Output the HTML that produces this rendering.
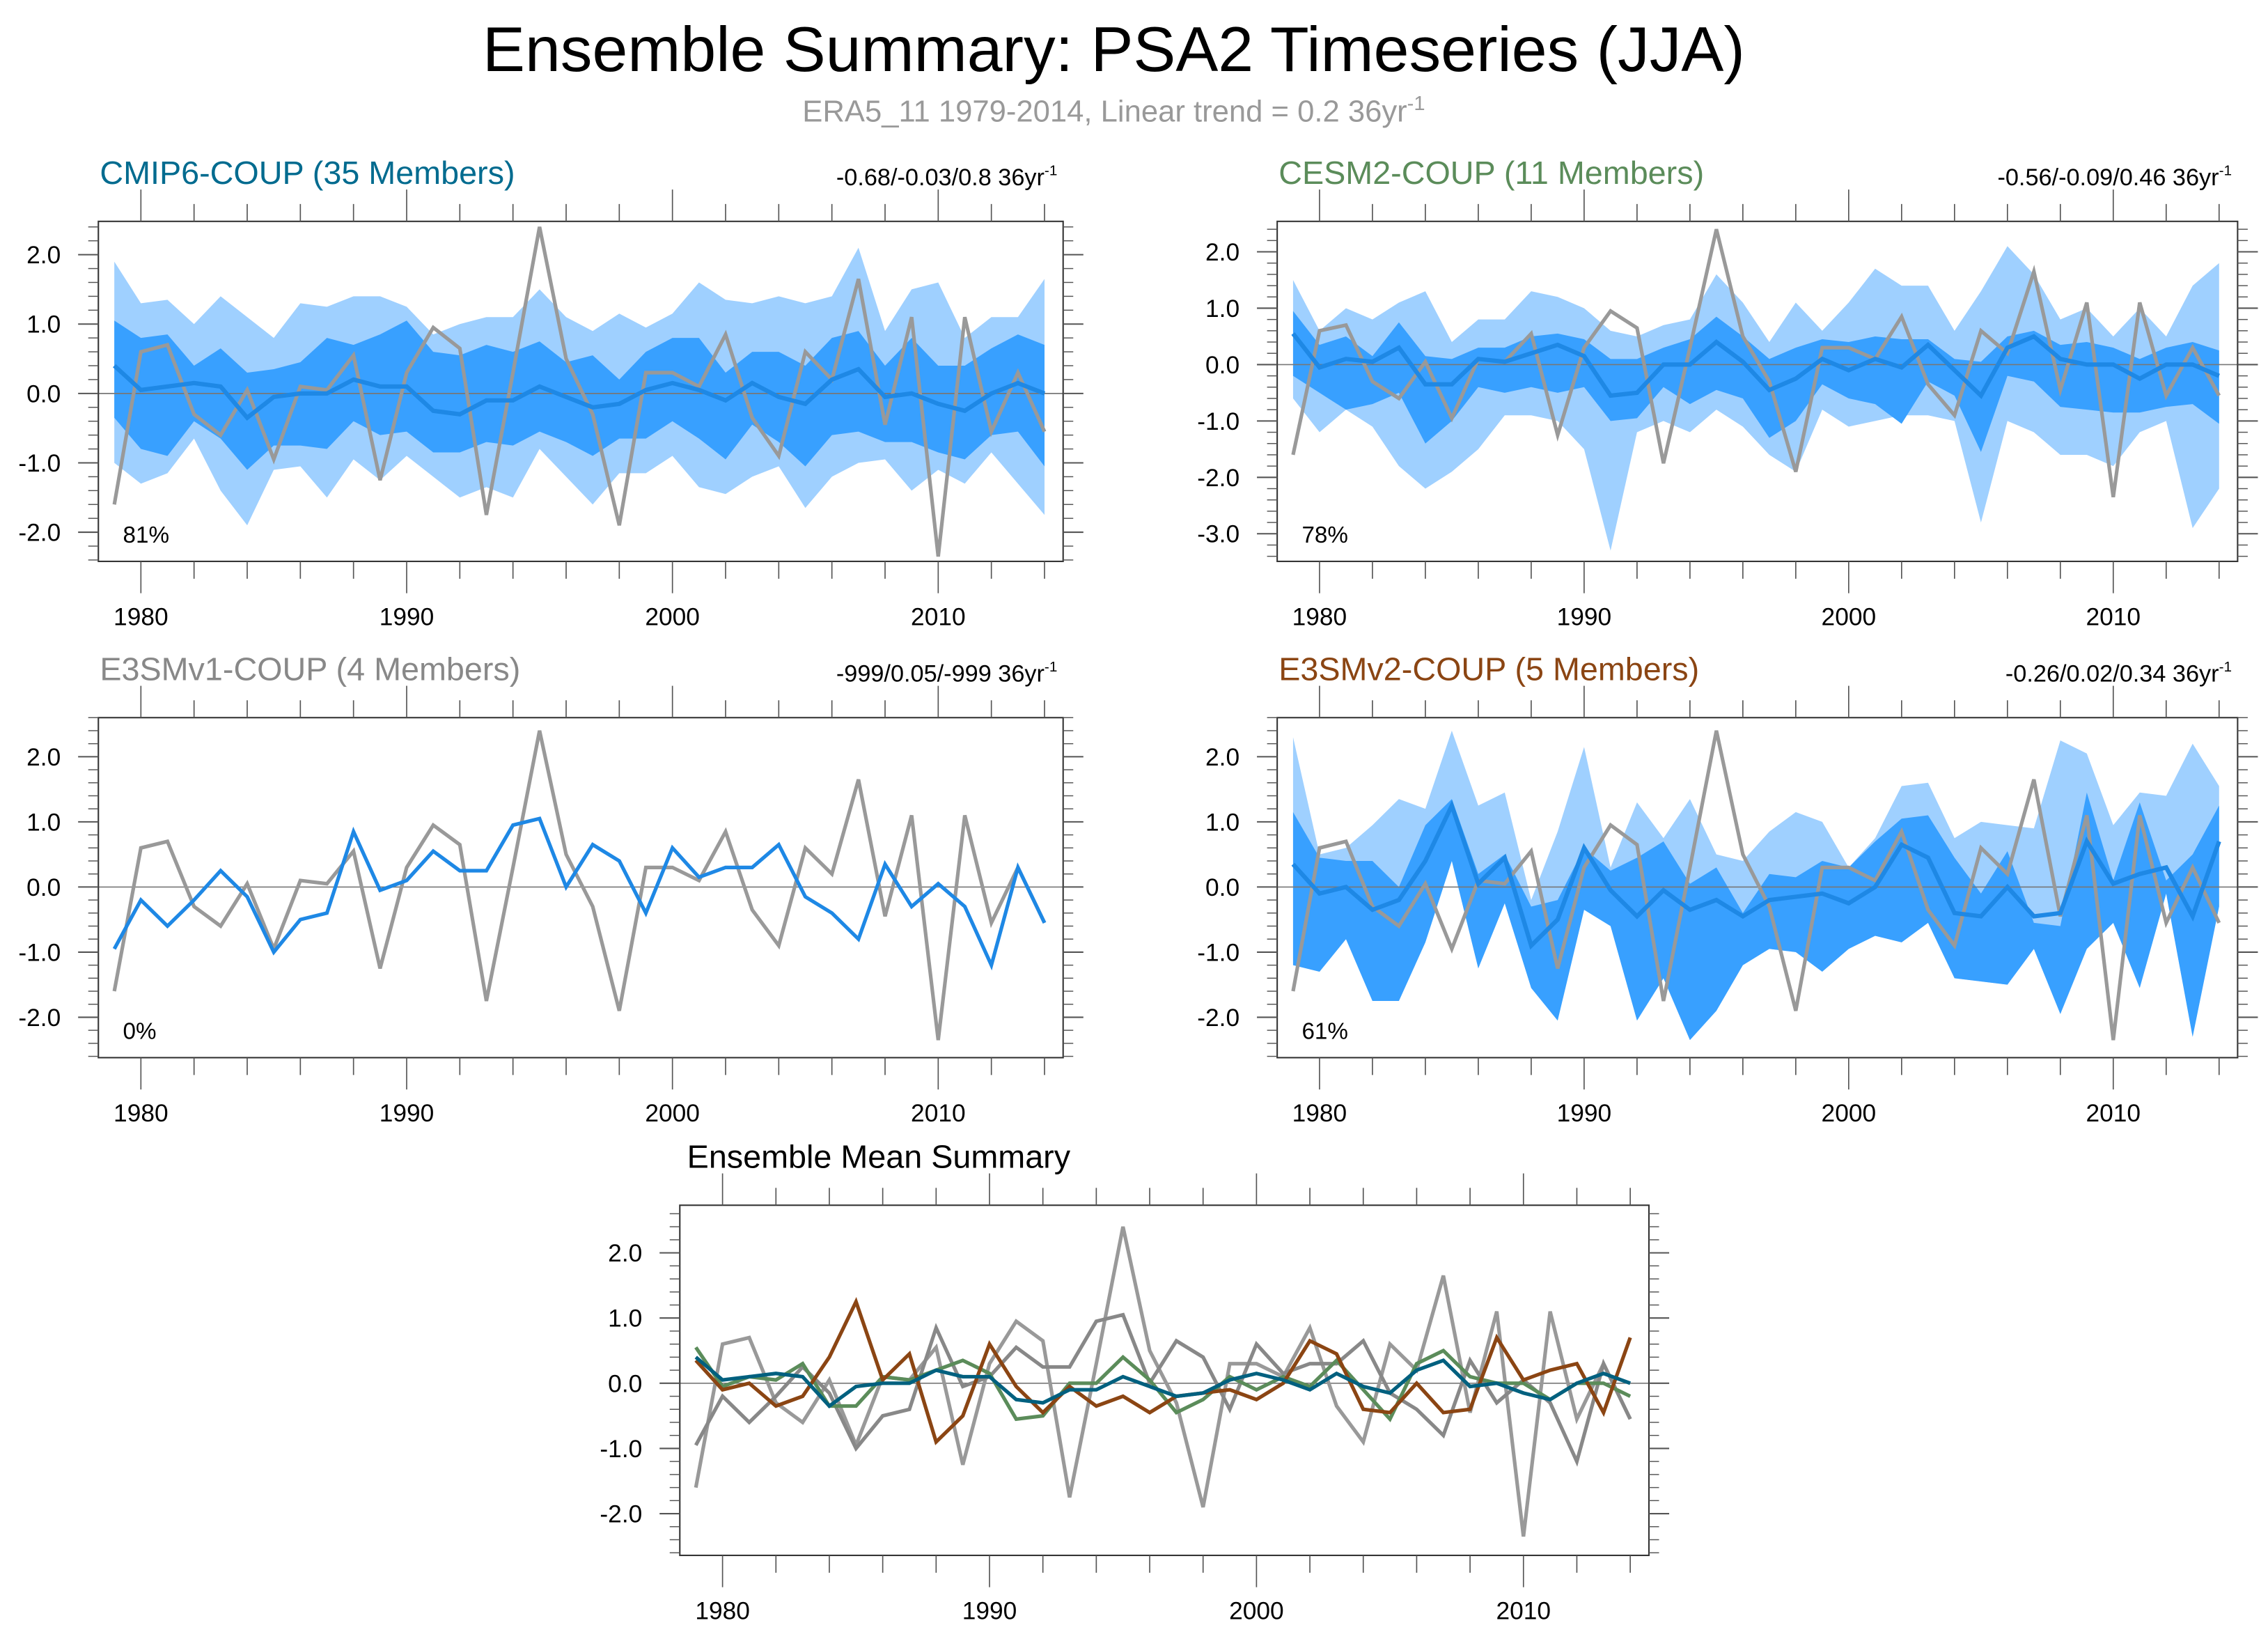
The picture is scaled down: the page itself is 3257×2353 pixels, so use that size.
<!DOCTYPE html>
<html><head><meta charset="utf-8"><style>
html,body{margin:0;padding:0;background:#fff}
svg{display:block;font-family:"Liberation Sans",sans-serif}
</style></head><body>
<svg id="chart" width="3257" height="2353" viewBox="0 0 1568 1132.8" xmlns="http://www.w3.org/2000/svg">
<text x="770" y="49" font-size="44" text-anchor="middle">Ensemble Summary: PSA2 Timeseries (JJA)</text>
<text x="770" y="84" font-size="21" text-anchor="middle" fill="#999">ERA5_11 1979-2014, Linear trend = 0.2 36yr<tspan dy="-8" font-size="14">-1</tspan></text>
</svg>
<script>
const years=[];for(let y=1979;y<=2014;y++)years.push(y);
const obs=[-1.6,0.6,0.7,-0.3,-0.6,0.05,-0.95,0.1,0.05,0.55,-1.25,0.3,0.95,0.65,-1.75,0.3,2.4,0.5,-0.3,-1.9,0.3,0.3,0.1,0.85,-0.35,-0.9,0.6,0.2,1.65,-0.45,1.1,-2.35,1.1,-0.55,0.3,-0.55];
const cmipMean=[0.4,0.05,0.1,0.15,0.1,-0.35,-0.05,0.0,0.0,0.2,0.1,0.1,-0.25,-0.3,-0.1,-0.1,0.1,-0.05,-0.2,-0.15,0.05,0.15,0.05,-0.1,0.15,-0.05,-0.15,0.2,0.35,-0.05,0.0,-0.15,-0.25,0.0,0.15,0.0];
const cmipOutHi=[1.9,1.3,1.35,1.0,1.4,1.1,0.8,1.3,1.25,1.4,1.4,1.25,0.85,1.0,1.1,1.1,1.5,1.1,0.9,1.15,0.95,1.15,1.6,1.35,1.3,1.4,1.3,1.4,2.1,0.9,1.5,1.6,0.8,1.1,1.1,1.65];
const cmipOutLo=[-1.0,-1.3,-1.15,-0.65,-1.4,-1.9,-1.1,-1.05,-1.5,-0.95,-1.25,-0.9,-1.2,-1.5,-1.35,-1.5,-0.8,-1.2,-1.6,-1.15,-1.15,-0.9,-1.35,-1.45,-1.2,-1.05,-1.65,-1.2,-1.0,-0.95,-1.4,-1.1,-1.3,-0.85,-1.3,-1.75];
const cmipInHi=[1.05,0.8,0.85,0.4,0.65,0.3,0.35,0.45,0.8,0.7,0.85,1.05,0.6,0.55,0.7,0.6,0.75,0.45,0.55,0.2,0.6,0.8,0.8,0.3,0.6,0.6,0.4,0.8,0.9,0.4,0.8,0.4,0.4,0.65,0.85,0.7];
const cmipInLo=[-0.35,-0.8,-0.9,-0.4,-0.65,-1.1,-0.75,-0.75,-0.8,-0.4,-0.6,-0.55,-0.85,-0.85,-0.7,-0.75,-0.55,-0.7,-0.9,-0.65,-0.65,-0.4,-0.65,-0.95,-0.45,-0.7,-1.05,-0.6,-0.55,-0.7,-0.7,-0.85,-0.95,-0.6,-0.55,-1.05];
const cesmMean=[0.55,-0.05,0.1,0.05,0.3,-0.35,-0.35,0.1,0.05,0.2,0.35,0.15,-0.55,-0.5,0.0,0.0,0.4,0.05,-0.45,-0.25,0.1,-0.1,0.1,-0.05,0.35,-0.1,-0.55,0.3,0.5,0.1,0.0,0.0,-0.25,0.0,0.0,-0.2];
const cesmOutHi=[1.5,0.6,1.0,0.8,1.1,1.3,0.4,0.8,0.8,1.3,1.2,1.0,0.6,0.5,0.7,0.8,1.6,1.1,0.4,1.1,0.6,1.1,1.7,1.4,1.4,0.6,1.3,2.1,1.6,0.8,1.0,0.5,1.0,0.5,1.4,1.8];
const cesmOutLo=[-0.6,-1.2,-0.8,-1.1,-1.8,-2.2,-1.9,-1.5,-0.9,-0.9,-1.0,-1.5,-3.3,-1.2,-1.0,-1.2,-0.8,-1.1,-1.6,-1.9,-0.8,-1.1,-1.0,-0.9,-0.9,-1.0,-2.8,-1.0,-1.2,-1.6,-1.6,-1.8,-1.2,-1.0,-2.9,-2.2];
const cesmInHi=[0.95,0.35,0.5,0.15,0.75,0.15,0.1,0.3,0.3,0.5,0.55,0.45,0.1,0.1,0.3,0.45,0.85,0.5,0.1,0.3,0.45,0.4,0.5,0.45,0.45,0.1,0.05,0.5,0.6,0.35,0.4,0.3,0.1,0.3,0.4,0.25];
const cesmInLo=[-0.2,-0.5,-0.8,-0.7,-0.5,-1.4,-1.0,-0.4,-0.5,-0.4,-0.5,-0.4,-1.0,-0.95,-0.4,-0.7,-0.45,-0.6,-1.3,-1.0,-0.35,-0.6,-0.7,-1.05,-0.3,-0.55,-1.55,-0.2,-0.3,-0.75,-0.8,-0.85,-0.85,-0.75,-0.7,-1.05];
const e3v1Mean=[-0.95,-0.2,-0.6,-0.2,0.25,-0.15,-1.0,-0.5,-0.4,0.85,-0.05,0.1,0.55,0.25,0.25,0.95,1.05,0.0,0.65,0.4,-0.4,0.6,0.15,0.3,0.3,0.65,-0.15,-0.4,-0.8,0.35,-0.3,0.05,-0.3,-1.2,0.3,-0.55];
const e3v2Mean=[0.35,-0.1,0.0,-0.35,-0.2,0.4,1.25,0.05,0.45,-0.9,-0.5,0.6,-0.05,-0.45,-0.05,-0.35,-0.2,-0.45,-0.2,-0.15,-0.1,-0.25,0.0,0.65,0.45,-0.4,-0.45,0.0,-0.45,-0.4,0.7,0.05,0.2,0.3,-0.45,0.7];
const e3v2OutHi=[2.3,0.5,0.6,0.95,1.35,1.2,2.4,1.25,1.45,-0.2,0.85,2.15,0.3,1.3,0.75,1.35,0.5,0.4,0.85,1.15,1.0,0.3,0.75,1.55,1.6,0.75,1.0,0.95,0.9,2.25,2.05,0.95,1.45,1.4,2.2,1.55];
const e3v2OutLo=[-1.2,-1.3,-0.8,-1.75,-1.75,-0.85,0.4,-1.25,-0.25,-1.55,-2.05,-0.35,-0.6,-2.05,-1.4,-2.35,-1.9,-1.2,-0.95,-1.0,-1.3,-0.95,-0.75,-0.85,-0.55,-1.4,-1.45,-1.5,-0.95,-1.95,-0.95,-0.55,-1.55,-0.1,-2.3,-0.3];
const e3v2InHi=[1.15,0.45,0.4,0.4,0.0,0.95,1.35,0.2,0.5,-0.3,-0.2,0.6,0.25,0.45,0.7,0.05,0.3,-0.4,0.2,0.15,0.4,0.3,0.7,1.05,1.1,0.45,-0.1,0.55,-0.55,-0.6,1.45,0.1,1.3,0.1,0.5,1.25];
const e3v2InLo=[-1.2,-1.3,-0.8,-1.75,-1.75,-0.85,0.4,-1.25,-0.25,-1.55,-2.05,-0.35,-0.6,-2.05,-1.4,-2.35,-1.9,-1.2,-0.95,-1.0,-1.3,-0.95,-0.75,-0.85,-0.55,-1.4,-1.45,-1.5,-0.95,-1.95,-0.95,-0.55,-1.55,-0.1,-2.3,-0.3];
const yearTicks=[1980,1990,2000,2010];

const NS='http://www.w3.org/2000/svg';
const svg=document.getElementById('chart');
function mk(tag,attrs,parent){const e=document.createElementNS(NS,tag);for(const k in attrs)e.setAttribute(k,attrs[k]);(parent||svg).appendChild(e);return e;}

function panel(cfg){
  const g=mk('g',{});
  
  
  const L=cfg.L,R=cfg.R,T=cfg.T,B=cfg.B;
  const x=yr=>L+(yr-1978.4)/(2014.7-1978.4)*(R-L);
  const y=v=>T+(cfg.ymax-v)/(cfg.ymax-cfg.ymin)*(B-T);
  function band(hi,lo,color,nm){
    let d='M'+years.map((yr,i)=>x(yr)+','+y(hi[i])).join('L');
    for(let i=years.length-1;i>=0;i--)d+='L'+x(years[i])+','+y(lo[i]);
    const p=mk('path',{d:d+'Z',fill:color},g);
    
    
  }
  function line(vals,color,w,nm){
    const p=mk('polyline',{points:years.map((yr,i)=>x(yr)+','+y(vals[i])).join(' '),fill:'none',stroke:color,'stroke-width':w,'stroke-linejoin':'miter'},g);
    
    
  }
  if(cfg.bands){band(cfg.bands[0],cfg.bands[1],'#9fd0ff','outer-range-band');band(cfg.bands[2],cfg.bands[3],'#38a0ff','inner-range-band');}
  const z=mk('line',{x1:L,x2:R,y1:y(0),y2:y(0),stroke:'#777','stroke-width':0.8},g);
  
  
  cfg.lines.forEach(l=>line(l[0],l[1],l[2],l[3]));
  const box=mk('rect',{x:L,y:T,width:R-L,height:B-T,fill:'none',stroke:'#333','stroke-width':1},g);
  
  
  for(let yr=1980;yr<=2014;yr+=2){
    const maj=yr%10===0,len=maj?22:12;
    mk('line',{x1:x(yr),x2:x(yr),y1:B,y2:B+len,stroke:'#555','stroke-width':0.8},g);
    mk('line',{x1:x(yr),x2:x(yr),y1:T,y2:T-len,stroke:'#555','stroke-width':0.8},g);
  }
  yearTicks.forEach(yr=>{const t=mk('text',{x:x(yr),y:B+44,'font-size':17,'text-anchor':'middle'},g);t.textContent=yr;
    
    });
  for(let k=Math.ceil(cfg.ymin*5);k<=Math.floor(cfg.ymax*5);k++){
    const v=k/5,maj=k%5===0,len=maj?14:7;
    mk('line',{x1:L,x2:L-len,y1:y(v),y2:y(v),stroke:'#555','stroke-width':maj?1:0.7},g);
    mk('line',{x1:R,x2:R+len,y1:y(v),y2:y(v),stroke:'#555','stroke-width':maj?1:0.7},g);
    if(maj){const t=mk('text',{x:L-26,y:y(v)+6,'font-size':17,'text-anchor':'end'},g);t.textContent=v.toFixed(1);
      
      }
  }
  const tt=mk('text',{x:cfg.tx||L+1,y:T-26,'font-size':22.5,fill:cfg.tcolor},g);tt.textContent=cfg.title;
  
  
  if(cfg.right){const r=mk('text',{x:R-4,y:T-25,'font-size':16.5,'text-anchor':'end'},g);r.innerHTML=cfg.right+' 36yr<tspan dy="-7" font-size="10">-1</tspan>';
    
    }
  if(cfg.pct){const p=mk('text',{x:L+17,y:B-13,'font-size':16},g);p.textContent=cfg.pct;
    
    }
}
panel({name:'cmip6-panel',L:68,R:735,T:153,B:388,ymin:-2.42,ymax:2.48,title:'CMIP6-COUP (35 Members)',tcolor:'#006b8f',right:'-0.68/-0.03/0.8',pct:'81%',
  bands:[cmipOutHi,cmipOutLo,cmipInHi,cmipInLo],lines:[[obs,'#999',2.5,'observed-line'],[cmipMean,'#1e88e5',3,'ensemble-mean-line']]});
panel({name:'cesm2-panel',L:883,R:1547,T:153,B:388,ymin:-3.49,ymax:2.54,title:'CESM2-COUP (11 Members)',tcolor:'#5b8c5a',right:'-0.56/-0.09/0.46',pct:'78%',
  bands:[cesmOutHi,cesmOutLo,cesmInHi,cesmInLo],lines:[[obs,'#999',2.5,'observed-line'],[cesmMean,'#1e88e5',3,'ensemble-mean-line']]});
panel({name:'e3smv1-panel',L:68,R:735,T:496,B:731,ymin:-2.62,ymax:2.6,title:'E3SMv1-COUP (4 Members)',tcolor:'#888',right:'-999/0.05/-999',pct:'0%',
  lines:[[obs,'#999',2.5,'observed-line'],[e3v1Mean,'#1e88e5',2.5,'ensemble-mean-line']]});
panel({name:'e3smv2-panel',L:883,R:1547,T:496,B:731,ymin:-2.62,ymax:2.6,title:'E3SMv2-COUP (5 Members)',tcolor:'#8b4513',right:'-0.26/0.02/0.34',pct:'61%',
  bands:[e3v2OutHi,e3v2OutLo,e3v2InHi,e3v2InLo],lines:[[obs,'#999',2.5,'observed-line'],[e3v2Mean,'#1e88e5',3,'ensemble-mean-line']]});
panel({name:'ensemble-mean-panel',L:470,R:1140,T:833,B:1075,ymin:-2.64,ymax:2.73,tx:475,title:'Ensemble Mean Summary',tcolor:'#000',
  lines:[[obs,'#999',2.5,'observed-line'],[e3v1Mean,'#888',2.5,'e3smv1-mean-line'],[cesmMean,'#5b8c5a',2.5,'cesm2-mean-line'],[e3v2Mean,'#8b4513',2.5,'e3smv2-mean-line'],[cmipMean,'#00607f',2.5,'cmip6-mean-line']]});
</script>
</body></html>
